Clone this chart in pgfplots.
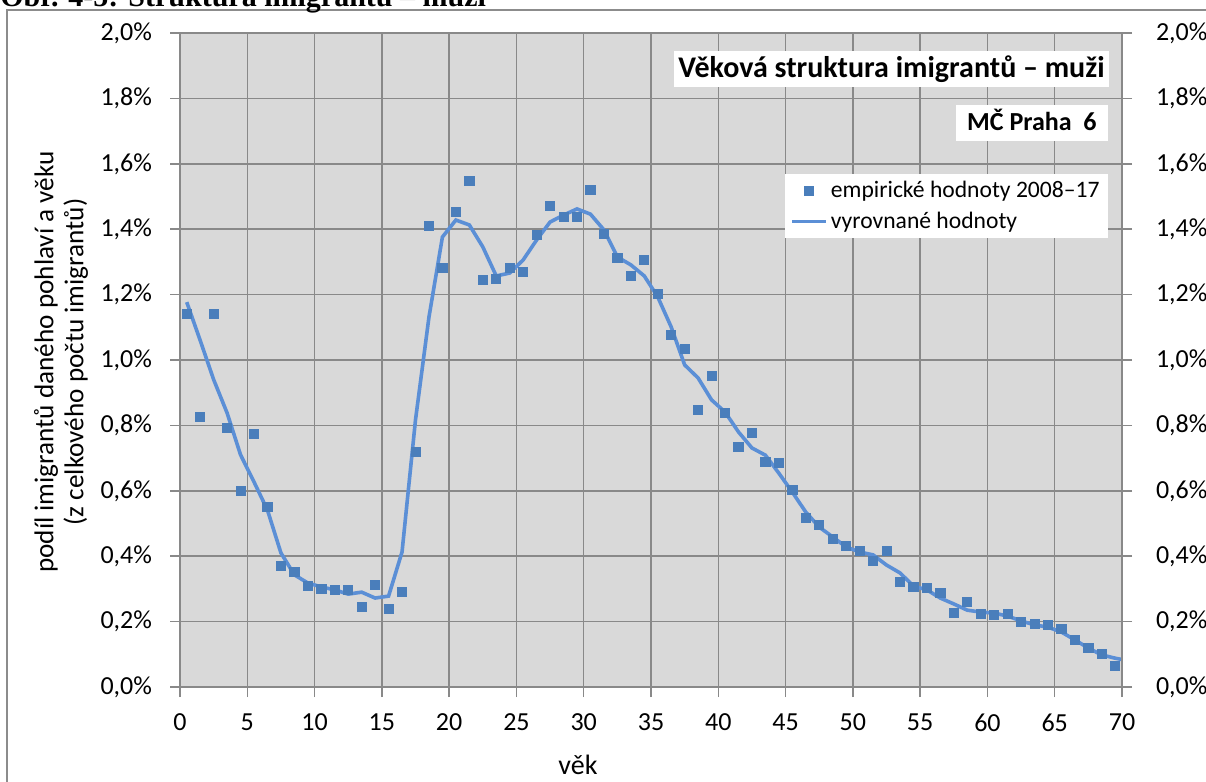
\documentclass[border=0pt]{standalone}
\usepackage{fontspec}
\setmainfont{Carlito}
\newfontfamily\serifb{Liberation Serif}
\usepackage{pgfplots}
\usepackage{pgfplotstable}
\pgfplotsset{compat=1.18}
\definecolor{bg}{HTML}{D9D9D9}
\definecolor{gridc}{HTML}{898989}
\definecolor{markc}{HTML}{4A7EBB}
\definecolor{linec}{HTML}{5B8FD6}
\definecolor{framec}{HTML}{8C8C8C}

\pgfplotstableread{
x y
0.5 1.141
1.5 0.826
2.5 1.141
3.5 0.792
4.5 0.599
5.5 0.774
6.5 0.550
7.5 0.370
8.5 0.352
9.5 0.309
10.5 0.300
11.5 0.297
12.5 0.297
13.5 0.245
14.5 0.312
15.5 0.239
16.5 0.291
17.5 0.719
18.5 1.410
19.5 1.281
20.5 1.453
21.5 1.547
22.5 1.245
23.5 1.248
24.5 1.281
25.5 1.269
26.5 1.382
27.5 1.471
28.5 1.437
29.5 1.437
30.5 1.520
31.5 1.385
32.5 1.312
33.5 1.257
34.5 1.306
35.5 1.202
36.5 1.076
37.5 1.034
38.5 0.847
39.5 0.951
40.5 0.838
41.5 0.734
42.5 0.777
43.5 0.688
44.5 0.685
45.5 0.602
46.5 0.517
47.5 0.495
48.5 0.453
49.5 0.431
50.5 0.416
51.5 0.385
52.5 0.416
53.5 0.321
54.5 0.306
55.5 0.303
56.5 0.287
57.5 0.226
58.5 0.260
59.5 0.223
60.5 0.220
61.5 0.223
62.5 0.199
63.5 0.193
64.5 0.190
65.5 0.177
66.5 0.144
67.5 0.119
68.5 0.101
69.5 0.064
}\empdata

\pgfplotstableread{
x y
0.5 1.177
1.5 1.06
2.5 0.94
3.5 0.838
4.5 0.71
5.5 0.627
6.5 0.541
7.5 0.41
8.5 0.343
9.5 0.318
10.5 0.306
11.5 0.297
12.5 0.284
13.5 0.29
14.5 0.272
15.5 0.278
16.5 0.413
17.5 0.817
18.5 1.131
19.5 1.376
20.5 1.428
21.5 1.413
22.5 1.346
23.5 1.257
24.5 1.266
25.5 1.306
26.5 1.367
27.5 1.422
28.5 1.443
29.5 1.462
30.5 1.446
31.5 1.398
32.5 1.315
33.5 1.291
34.5 1.257
35.5 1.193
36.5 1.101
37.5 0.985
38.5 0.945
39.5 0.878
40.5 0.841
41.5 0.78
42.5 0.731
43.5 0.709
44.5 0.654
45.5 0.596
46.5 0.535
47.5 0.489
48.5 0.459
49.5 0.428
50.5 0.413
51.5 0.404
52.5 0.373
53.5 0.349
54.5 0.309
55.5 0.297
56.5 0.272
57.5 0.254
58.5 0.235
59.5 0.229
60.5 0.226
61.5 0.217
62.5 0.202
63.5 0.19
64.5 0.183
65.5 0.168
66.5 0.144
67.5 0.119
68.5 0.098
69.5 0.088
70 0.084
}\smoothdata

\begin{document}
\begin{tikzpicture}[x=0.5pt,y=0.5pt]
\path[use as bounding box] (0,0) rectangle (1206,782);
\clip (0,0) rectangle (1206,782);
\draw[framec, line width=0.6pt] (7,-5) -- (7,772) -- (1215,772);
\node[anchor=base west, font=\serifb\bfseries\fontsize{15}{18}\selectfont, inner sep=0] at (0,775) {Obr. 4-5: Struktura imigrantů – muži};

\begin{axis}[at={(90pt,47.5pt)}, anchor=south west,
  width=471pt, height=327pt, scale only axis,
  xmin=0, xmax=70, ymin=0, ymax=2,
  axis background/.style={fill=bg},
  xtick={0,5,10,15,20,25,30,35,40,45,50,55,60,65,70},
  xticklabels={0,5,10,15,20,25,30,35,40,45,50,55,60,65,70},
  ytick={0,0.2,0.4,0.6,0.8,1.0,1.2,1.4,1.6,1.8,2.0},
  yticklabels={{0,0\%},{0,2\%},{0,4\%},{0,6\%},{0,8\%},{1,0\%},{1,2\%},{1,4\%},{1,6\%},{1,8\%},{2,0\%}},
  grid=major, major grid style={gridc, line width=0.75pt},
  axis line style={gridc, line width=0.75pt},
  tick style={gridc, line width=0.75pt},
  tick align=outside, major tick length=5pt,
  xtick pos=bottom, ytick pos=left,
  tick label style={font=\fontsize{13}{15}\selectfont, text=black},
  xticklabel style={yshift=-5pt},
  yticklabel style={xshift=-5.5pt},
  legend style={at={(0.9851,0.7844)}, anchor=north east, draw=none, fill=white,
    font=\fontsize{11.8}{13}\selectfont, inner xsep=2.5pt, inner ysep=2.5pt,
    row sep=3.5pt, nodes={inner xsep=1.5pt, inner ysep=1pt}},
  legend cell align=left,
]
\addplot[only marks, mark=square*, mark size=2.3pt, color=markc] table[x=x,y=y]{\empdata};
\addlegendentry{empirické hodnoty 2008–17}
\addplot[linec, line width=1.8pt, mark=none] table[x=x,y=y]{\smoothdata};
\addlegendentry{vyrovnané hodnoty}
\end{axis}

\begin{axis}[at={(90pt,47.5pt)}, anchor=south west,
  width=471pt, height=327pt, scale only axis,
  xmin=0, xmax=70, ymin=0, ymax=2,
  hide x axis, axis y line*=right,
  ytick={0,0.2,0.4,0.6,0.8,1.0,1.2,1.4,1.6,1.8,2.0},
  yticklabels={{0,0\%},{0,2\%},{0,4\%},{0,6\%},{0,8\%},{1,0\%},{1,2\%},{1,4\%},{1,6\%},{1,8\%},{2,0\%}},
  axis line style={gridc, line width=0.75pt},
  tick style={gridc, line width=0.75pt},
  tick align=outside, major tick length=5pt,
  tick label style={font=\fontsize{13}{15}\selectfont, text=black},
  yticklabel style={xshift=8.5pt},
]
\addplot[draw=none] coordinates {(0,0)};
\end{axis}

\node[fill=white, anchor=east, inner xsep=2pt, inner ysep=2pt, text height=11pt, text depth=3pt,
  font=\bfseries\fontsize{15}{18}\selectfont] at (1109,712.5) {Věková struktura imigrantů – muži};
\node[fill=white, anchor=east, inner xsep=5.5pt, inner ysep=2.5pt, text height=10pt, text depth=3pt,
  font=\bfseries\fontsize{13}{15}\selectfont] at (1108,658.5) {MČ Praha\ \ 6};
\node[rotate=90, align=center, font=\fontsize{13.6}{15}\selectfont] at (61,420)
  {podíl imigrantů daného pohlaví a věku\\(z celkového počtu imigrantů)};
\node[font=\fontsize{14}{16}\selectfont] at (578,17) {věk};
\end{tikzpicture}
\end{document}
